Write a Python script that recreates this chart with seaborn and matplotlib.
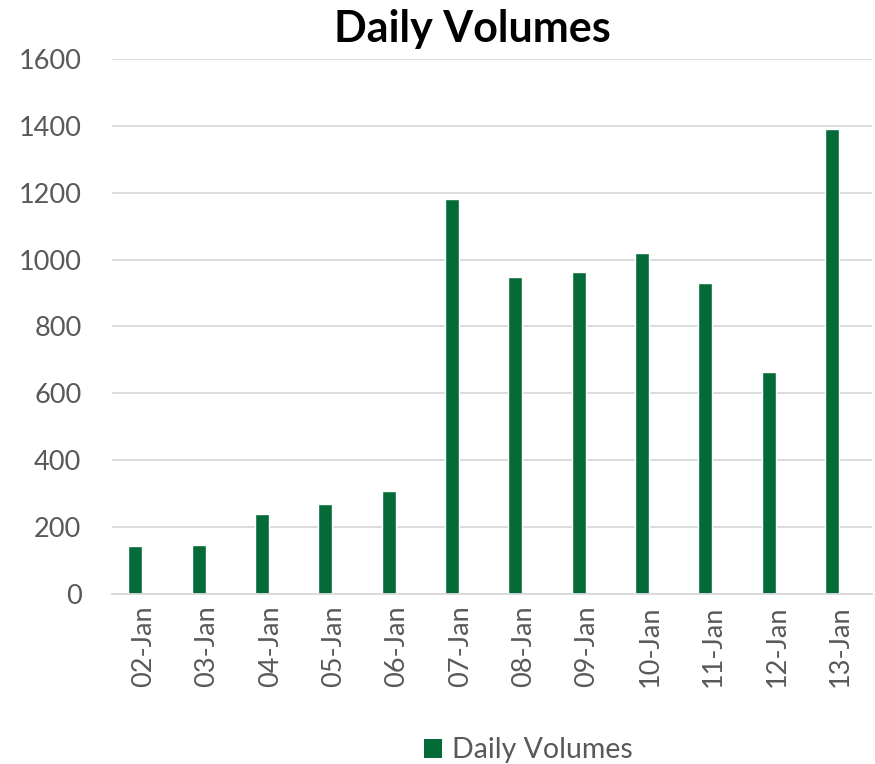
import numpy as np
import pandas as pd
import matplotlib
matplotlib.use('Agg')
import matplotlib.pyplot as plt
import seaborn as sns
from matplotlib.patches import Patch

days = ['02-Jan', '03-Jan', '04-Jan', '05-Jan', '06-Jan', '07-Jan',
        '08-Jan', '09-Jan', '10-Jan', '11-Jan', '12-Jan', '13-Jan']
volumes = [145, 148, 241, 270, 308, 1181, 948, 964, 1018, 931, 663, 1390]
series_name = 'Daily Volumes'
y_ticks = [0, 200, 400, 600, 800, 1000, 1200, 1400, 1600]

green = '#046a38'
gray = '#595959'

sns.set_theme(style='white')
plt.rcParams['font.family'] = ['Lato', 'DejaVu Sans']

df = pd.DataFrame({'day': days, 'volume': volumes})

fig = plt.figure(figsize=(8.75, 7.64), dpi=100)
ax = fig.add_axes([0.128, 0.2219, 0.8686, 0.7015])

sns.barplot(data=df, x='day', y='volume', color=green, width=0.22,
            saturation=1, ax=ax)

# excel draws the bar left of the category centre
for p in ax.patches:
    p.set_x(p.get_x() - 0.13)

ax.set_ylim(0, 1600)
ax.set_xlim(-0.5, len(days) - 0.5)
ax.set_yticks(y_ticks)
ax.set_yticklabels([str(t) for t in y_ticks])
ax.yaxis.grid(True, color='#d9d9d9', linewidth=1.3)
ax.set_axisbelow(True)
ax.set_xlabel('')
ax.set_ylabel('')
for s in ['top', 'right', 'left']:
    ax.spines[s].set_visible(False)
ax.spines['bottom'].set_color('#d9d9d9')
ax.spines['bottom'].set_linewidth(1.3)
ax.tick_params(axis='both', length=0, labelsize=19.5, colors=gray)
ax.tick_params(axis='y', pad=22)
ax.tick_params(axis='x', pad=8)
plt.setp(ax.get_xticklabels(), rotation=90)

fig.text(0.54, 0.962, series_name, ha='center', va='center',
         fontsize=31, fontweight='bold', color='black')

handles = [Patch(facecolor=green, edgecolor='none', label=series_name)]
fig.legend(handles=handles, loc='center', bbox_to_anchor=(0.604, 0.018),
           frameon=False, fontsize=20.5, labelcolor=gray,
           handlelength=0.65, handleheight=0.65, handletextpad=0.35)

fig.savefig('out.png', dpi=100)
plt.close(fig)
